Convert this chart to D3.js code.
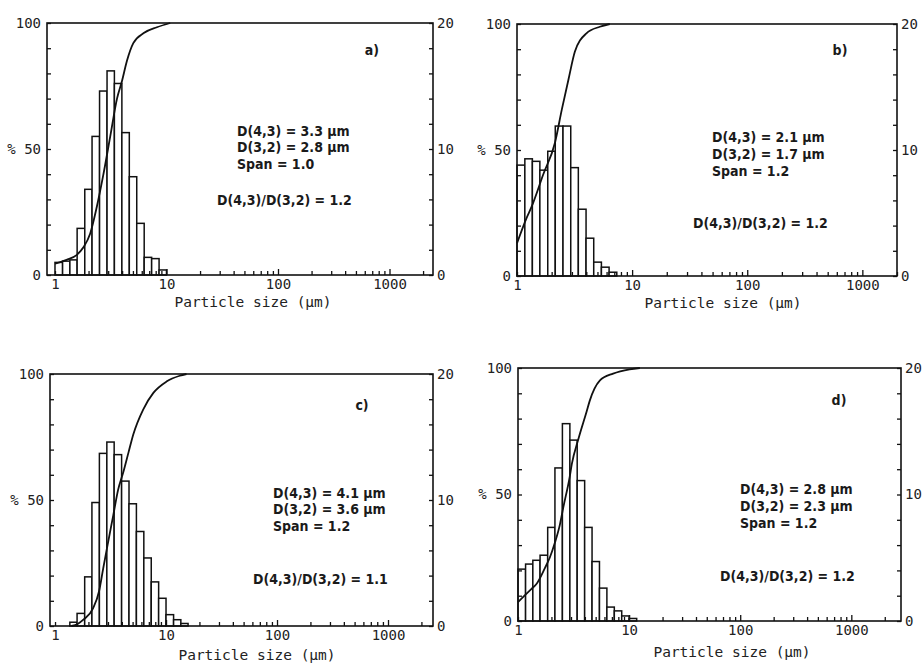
<!DOCTYPE html>
<html>
<head>
<meta charset="utf-8">
<script src="https://cdn.jsdelivr.net/npm/d3@7"></script>
<style>
  body { margin: 0; background: #fff; }
  svg { display: block; }
  .tick text { font-family: "DejaVu Sans Mono", "Liberation Mono", monospace; font-size: 14px; fill: #222; }
  .tick line { stroke: #111; stroke-width: 1.3; }
  .axis-title { font-family: "DejaVu Sans Mono", "Liberation Mono", monospace; font-size: 14.5px; fill: #222; }
  .note { font-family: "DejaVu Sans Condensed", "Liberation Sans Narrow", "Roboto Condensed", sans-serif; font-stretch: condensed; font-size: 14px; font-weight: bold; fill: #1a1a1a; }
</style>
</head>
<body>
<div id="chart"></div>
<script>
// analyser size classes (µm), 15 per decade
const sizeEdges = [1.00, 1.17, 1.36, 1.58, 1.85, 2.15, 2.51, 2.93, 3.41, 3.98, 4.64, 5.41, 6.31, 7.36, 8.58, 10.0, 11.7, 13.6, 15.8];

// volume frequency per class (% , right axis 0-20)
const freqA = [1.0, 1.1, 1.2, 3.7, 6.8, 11.0, 14.6, 16.2, 15.2, 11.3, 7.8, 4.1, 1.4, 1.3, 0.4];
const freqB = [8.8, 9.3, 9.1, 8.4, 9.9, 11.9, 11.9, 8.6, 5.3, 3.0, 1.1, 0.7, 0.3];
const freqC = [0, 0, 0.3, 1.0, 3.9, 9.8, 13.7, 14.6, 13.6, 11.5, 9.7, 7.5, 5.4, 3.5, 2.2, 0.9, 0.5, 0.2];
const freqD = [4.1, 4.5, 4.8, 5.2, 7.4, 12.1, 15.6, 14.3, 11.1, 7.4, 4.7, 2.6, 1.1, 0.8, 0.4, 0.2];

// cumulative undersize (% , left axis 0-100)
const cumSizeA = [1.0, 1.27, 1.57, 1.8, 2.07, 2.37, 2.72, 3.13, 3.6, 3.99, 4.42, 5.04, 6.25, 8.2, 10.8];
const cumPctA  = [4.5, 6, 8, 11, 16.5, 27, 40, 55, 70, 77, 85, 92, 96, 98.3, 100];
const cumSizeB = [1.0, 1.21, 1.34, 1.68, 2.14, 2.45, 2.8, 3.18, 4.01, 5.24, 6.4];
const cumPctB  = [13, 23, 27.5, 40, 53, 66, 78, 89, 96.3, 98.9, 100];
const cumSizeC = [1.41, 1.6, 1.8, 2.2, 2.5, 2.72, 3.0, 3.35, 3.7, 4.12, 4.6, 5.07, 6.24, 7.69, 10.1, 13.3, 15.3];
const cumPctC  = [0, 0.8, 2.5, 7, 14, 23, 33, 44, 54, 61, 69, 76, 86, 92.5, 97, 99.3, 100];
const cumSizeD = [1.0, 1.33, 1.46, 1.75, 1.93, 2.15, 2.38, 2.56, 2.92, 3.05, 3.5, 4.16, 4.42, 5.44, 7.18, 10.1, 12.5];
const cumPctD  = [7.5, 12.8, 14.5, 21, 25, 31, 38, 45, 57, 62, 72, 83, 87, 95, 97.8, 99.5, 100];

const statsA = ['D(4,3) = 3.3 µm', 'D(3,2) = 2.8 µm', 'Span = 1.0'];
const statsB = ['D(4,3) = 2.1 µm', 'D(3,2) = 1.7 µm', 'Span = 1.2'];
const statsC = ['D(4,3) = 4.1 µm', 'D(3,2) = 3.6 µm', 'Span = 1.2'];
const statsD = ['D(4,3) = 2.8 µm', 'D(3,2) = 2.3 µm', 'Span = 1.2'];
const ratios = ['D(4,3)/D(3,2) = 1.2', 'D(4,3)/D(3,2) = 1.2', 'D(4,3)/D(3,2) = 1.1', 'D(4,3)/D(3,2) = 1.2'];
const panelLetters = ['a)', 'b)', 'c)', 'd)'];

const W = 923, H = 666;
const svg = d3.select('#chart').append('svg').attr('width', W).attr('height', H);

// each scanned panel has its own frame and decade spacing
const panels = [
  { freq: freqA, cs: cumSizeA, cp: cumPctA, stats: statsA, box: [47, 23, 433, 275], dom: [0.848, 2455],
    statsPos: [237, 135.5, 16.8], ratioPos: [217, 205], letterPos: [372, 55], titleY: 307, titleX: 253 },
  { freq: freqB, cs: cumSizeB, cp: cumPctB, stats: statsB, box: [517, 24, 897, 276], dom: [1, 2000],
    statsPos: [712, 141.5, 17.2], ratioPos: [693, 228], letterPos: [840, 55], titleY: 308, titleX: 723 },
  { freq: freqC, cs: cumSizeC, cp: cumPctC, stats: statsC, box: [50, 374, 433, 626], dom: [0.901, 2543],
    statsPos: [273, 497.5, 16.7], ratioPos: [253, 584], letterPos: [362, 410], titleY: 660, titleX: 257 },
  { freq: freqD, cs: cumSizeD, cp: cumPctD, stats: statsD, box: [518, 368, 901, 621], dom: [1, 2800],
    statsPos: [740, 494, 16.8], ratioPos: [720, 581], letterPos: [839, 405], titleY: 657, titleX: 732 }
];

panels.forEach((p, idx) => {
  const [x0, y0, x1, y1] = p.box;
  const g = svg.append('g');

  const x = d3.scaleLog().domain(p.dom).range([x0, x1]);
  const yL = d3.scaleLinear().domain([0, 100]).range([y1, y0]);
  const yR = d3.scaleLinear().domain([0, 20]).range([y1, y0]);

  // histogram bars
  const bars = p.freq.map((v, i) => ({ lo: sizeEdges[i], hi: sizeEdges[i + 1], v }))
    .filter(d => d.v > 0);
  g.selectAll('rect.bar')
    .data(bars)
    .enter()
    .append('rect')
    .attr('class', 'bar')
    .attr('x', d => x(d.lo))
    .attr('width', d => x(d.hi) - x(d.lo))
    .attr('y', d => yR(d.v))
    .attr('height', d => yR(0) - yR(d.v))
    .attr('fill', '#fff')
    .attr('stroke', '#111')
    .attr('stroke-width', 1.5);

  // cumulative curve
  const pts = p.cs.map((s, i) => [s, p.cp[i]]);
  g.append('path')
    .datum(pts)
    .attr('fill', 'none')
    .attr('stroke', '#111')
    .attr('stroke-width', 1.8)
    .attr('d', d3.line().x(d => x(d[0])).y(d => yL(d[1])).curve(d3.curveMonotoneX));

  // frame
  g.append('rect')
    .attr('x', x0).attr('y', y0)
    .attr('width', x1 - x0).attr('height', y1 - y0)
    .attr('fill', 'none').attr('stroke', '#111').attr('stroke-width', 1.6);

  // x axis: ticks at 1..9 per decade, labels on decades
  const xt = [];
  [1, 10, 100, 1000].forEach(dec => {
    for (let m = 1; m <= 9; m++) if (m * dec <= p.dom[1] && m * dec >= p.dom[0]) xt.push(m * dec);
  });
  const xAxis = g.append('g')
    .attr('transform', `translate(0,${y1})`)
    .call(d3.axisBottom(x).tickValues(xt).tickSize(-4).tickPadding(4)
      .tickFormat(d => [1, 10, 100, 1000].includes(d) ? String(d) : ''));
  xAxis.select('.domain').remove();
  xAxis.selectAll('.tick line').attr('y2', d => [10, 100, 1000].includes(d) ? -6 : -4);

  // left axis (cumulative %)
  const lAxis = g.append('g')
    .attr('transform', `translate(${x0},0)`)
    .call(d3.axisLeft(yL).tickValues(d3.range(0, 101, 10)).tickSize(-4).tickPadding(6)
      .tickFormat(d => d === 50 ? '% 50' : (d === 0 || d === 100 ? String(d) : '')));
  lAxis.select('.domain').remove();

  // right axis (frequency %)
  const rAxis = g.append('g')
    .attr('transform', `translate(${x1},0)`)
    .call(d3.axisRight(yR).tickValues(d3.range(0, 21, 2)).tickSize(-4).tickPadding(4)
      .tickFormat(d => d % 10 === 0 ? String(d) : ''));
  rAxis.select('.domain').remove();

  g.append('text')
    .attr('class', 'axis-title')
    .attr('x', p.titleX).attr('y', p.titleY)
    .attr('text-anchor', 'middle')
    .text('Particle size (µm)');

  // annotations
  const [sx, sy, sdy] = p.statsPos;
  p.stats.forEach((t, i) => {
    g.append('text').attr('class', 'note')
      .attr('x', sx).attr('y', sy + i * sdy)
      .text(t);
  });
  g.append('text').attr('class', 'note')
    .attr('x', p.ratioPos[0]).attr('y', p.ratioPos[1])
    .text(ratios[idx]);
  g.append('text').attr('class', 'note')
    .attr('x', p.letterPos[0]).attr('y', p.letterPos[1])
    .attr('text-anchor', 'middle')
    .text(panelLetters[idx]);
});
</script>
</body>
</html>
